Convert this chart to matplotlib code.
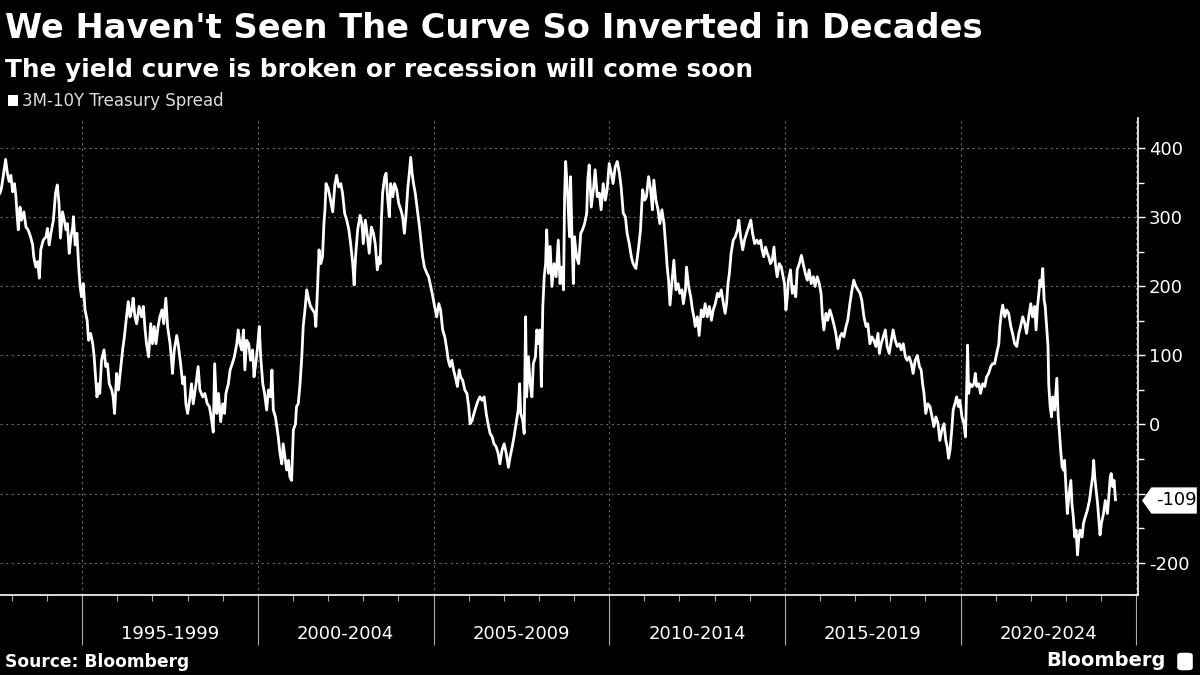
import matplotlib
matplotlib.use("Agg")
import matplotlib.pyplot as plt
from matplotlib.path import Path
from matplotlib.patches import Rectangle, FancyBboxPatch
from matplotlib.transforms import blended_transform_factory

# 3M-10Y Treasury spread, basis points (decimal years)
dates = [
    1992.66, 1992.70, 1992.75, 1992.82, 1992.87, 1992.92, 1992.97, 1993.02, 1993.07, 1993.11,
    1993.15, 1993.18, 1993.23, 1993.27, 1993.34, 1993.40, 1993.46, 1993.53, 1993.59, 1993.62,
    1993.68, 1993.73, 1993.78, 1993.82, 1993.89, 1993.97, 1994.01, 1994.06, 1994.11, 1994.18,
    1994.24, 1994.29, 1994.34, 1994.38, 1994.44, 1994.49, 1994.54, 1994.58, 1994.63, 1994.68,
    1994.73, 1994.75, 1994.80, 1994.85, 1994.90, 1994.94, 1994.98, 1995.03, 1995.08, 1995.14,
    1995.18, 1995.24, 1995.30, 1995.34, 1995.38, 1995.42, 1995.47, 1995.50, 1995.55, 1995.62,
    1995.67, 1995.72, 1995.77, 1995.84, 1995.88, 1995.92, 1995.98, 1996.03, 1996.09, 1996.15,
    1996.20, 1996.25, 1996.31, 1996.36, 1996.41, 1996.45, 1996.50, 1996.55, 1996.62, 1996.69,
    1996.74, 1996.79, 1996.83, 1996.89, 1996.95, 1997.00, 1997.05, 1997.10, 1997.16, 1997.21,
    1997.27, 1997.32, 1997.38, 1997.43, 1997.50, 1997.55, 1997.57, 1997.62, 1997.69, 1997.74,
    1997.80, 1997.86, 1997.91, 1997.95, 1998.00,
    1998.07, 1998.11, 1998.16, 1998.24, 1998.30, 1998.35, 1998.43, 1998.49, 1998.56, 1998.62,
    1998.67, 1998.73, 1998.77, 1998.83, 1998.88, 1998.94, 1999.00, 1999.05, 1999.09, 1999.16,
    1999.21, 1999.27, 1999.33, 1999.40, 1999.44, 1999.49, 1999.54, 1999.59, 1999.63, 1999.68,
    1999.74, 1999.79, 1999.85, 1999.89, 1999.94, 2000.00, 2000.04, 2000.08, 2000.14, 2000.19,
    2000.25, 2000.30, 2000.36, 2000.40, 2000.44, 2000.50, 2000.54, 2000.58, 2000.63, 2000.68,
    2000.72, 2000.77, 2000.82, 2000.87, 2000.91, 2000.96, 2001.01, 2001.07, 2001.10, 2001.15,
    2001.20, 2001.25, 2001.29, 2001.34, 2001.39, 2001.45, 2001.50, 2001.56, 2001.62, 2001.65,
    2001.70, 2001.74, 2001.79, 2001.84, 2001.88, 2001.91, 2001.94, 2002.00, 2002.05, 2002.13,
    2002.19, 2002.24, 2002.30, 2002.36, 2002.41, 2002.47, 2002.53, 2002.59, 2002.64, 2002.70,
    2002.74, 2002.78, 2002.84, 2002.91, 2002.96, 2003.00, 2003.06, 2003.12, 2003.17, 2003.23,
    2003.29, 2003.34, 2003.40, 2003.46,
    2003.48, 2003.52, 2003.55, 2003.61, 2003.65, 2003.69, 2003.74, 2003.78, 2003.84, 2003.89,
    2003.95, 2004.01, 2004.07, 2004.12, 2004.17, 2004.22, 2004.27, 2004.31, 2004.35, 2004.39,
    2004.43, 2004.48, 2004.54, 2004.60, 2004.65, 2004.69, 2004.74, 2004.81, 2004.86, 2004.92,
    2004.98, 2005.03, 2005.09, 2005.15, 2005.20, 2005.26, 2005.32, 2005.38, 2005.42, 2005.47,
    2005.52, 2005.57, 2005.62, 2005.68, 2005.73, 2005.77, 2005.83, 2005.89, 2005.95, 2006.00,
    2006.04, 2006.10, 2006.15, 2006.21, 2006.27, 2006.32, 2006.38, 2006.44, 2006.50, 2006.55,
    2006.61, 2006.67, 2006.72, 2006.78, 2006.84, 2006.89, 2006.95, 2007.01, 2007.07, 2007.13,
    2007.18, 2007.24, 2007.29, 2007.35, 2007.41, 2007.45, 2007.48, 2007.54, 2007.58, 2007.62,
    2007.65, 2007.70, 2007.75, 2007.80, 2007.84, 2007.90, 2007.94, 2007.99, 2008.03, 2008.07,
    2008.11, 2008.15, 2008.19, 2008.22, 2008.27, 2008.32, 2008.37, 2008.43, 2008.49, 2008.55,
    2008.60, 2008.65, 2008.70, 2008.73, 2008.76, 2008.81, 2008.87,
    2008.90, 2008.94, 2008.98, 2009.01, 2009.07, 2009.13, 2009.19, 2009.24, 2009.30, 2009.36,
    2009.39, 2009.43, 2009.49, 2009.55, 2009.60, 2009.66, 2009.72, 2009.77, 2009.83, 2009.89,
    2009.94, 2010.00, 2010.06, 2010.11, 2010.17, 2010.23, 2010.29, 2010.34, 2010.40, 2010.46,
    2010.51, 2010.57, 2010.63, 2010.68, 2010.76, 2010.84, 2010.89, 2010.95, 2011.01, 2011.06,
    2011.12, 2011.18, 2011.23, 2011.27, 2011.33, 2011.39, 2011.44, 2011.50, 2011.56, 2011.61,
    2011.65, 2011.69, 2011.73, 2011.79, 2011.84, 2011.90, 2011.96, 2012.01, 2012.07, 2012.11,
    2012.17, 2012.20, 2012.26, 2012.32, 2012.37, 2012.41, 2012.45, 2012.51, 2012.56, 2012.62,
    2012.68, 2012.73, 2012.79, 2012.85, 2012.91, 2012.96, 2013.02, 2013.08, 2013.13, 2013.19,
    2013.25, 2013.30, 2013.34, 2013.38, 2013.42, 2013.47, 2013.53, 2013.59, 2013.65, 2013.69,
    2013.74, 2013.80, 2013.85, 2013.91, 2013.97, 2014.03, 2014.08, 2014.14, 2014.20, 2014.25,
    2014.31, 2014.35, 2014.40, 2014.45, 2014.50, 2014.54, 2014.59, 2014.64, 2014.69, 2014.73,
    2014.78, 2014.84, 2014.90, 2014.95, 2014.99, 2015.03, 2015.07, 2015.10, 2015.16, 2015.21,
    2015.26, 2015.31, 2015.35, 2015.41, 2015.47, 2015.52, 2015.58, 2015.64, 2015.69, 2015.75,
    2015.81, 2015.86, 2015.92, 2015.98, 2016.03, 2016.07, 2016.11, 2016.17, 2016.22, 2016.28,
    2016.34, 2016.39, 2016.45, 2016.51, 2016.57, 2016.62, 2016.68, 2016.74, 2016.79, 2016.85,
    2016.91, 2016.96, 2017.02, 2017.08, 2017.14, 2017.19, 2017.25, 2017.31, 2017.36, 2017.42,
    2017.48, 2017.53, 2017.59, 2017.65, 2017.69, 2017.74, 2017.80, 2017.86, 2017.91, 2017.97,
    2018.03, 2018.08, 2018.14, 2018.20, 2018.26, 2018.31, 2018.37, 2018.43, 2018.48, 2018.54,
    2018.60, 2018.65, 2018.71, 2018.77, 2018.83, 2018.88, 2018.92, 2018.96, 2019.01, 2019.07,
    2019.13, 2019.19, 2019.24, 2019.30, 2019.36, 2019.41, 2019.47, 2019.53, 2019.58, 2019.62,
    2019.66,
    2019.70, 2019.75, 2019.79, 2019.84, 2019.89, 2019.94, 2019.98, 2020.04, 2020.10, 2020.14,
    2020.18, 2020.20, 2020.23, 2020.27, 2020.33, 2020.38, 2020.42, 2020.46, 2020.52, 2020.57,
    2020.63, 2020.69, 2020.74, 2020.80, 2020.86, 2020.91, 2020.97, 2021.03, 2021.09, 2021.12,
    2021.16, 2021.20, 2021.26, 2021.31, 2021.37, 2021.43, 2021.48, 2021.54, 2021.60, 2021.66,
    2021.71, 2021.77, 2021.83, 2021.88, 2021.94, 2022.00, 2022.05, 2022.11, 2022.15, 2022.19,
    2022.23, 2022.26, 2022.30, 2022.34, 2022.38, 2022.41, 2022.45, 2022.49, 2022.51, 2022.55,
    2022.59, 2022.62, 2022.68, 2022.74, 2022.78, 2022.81, 2022.85, 2022.89, 2022.93, 2022.96,
    2023.00, 2023.04, 2023.08, 2023.14, 2023.17, 2023.21, 2023.25, 2023.29, 2023.33, 2023.36,
    2023.40, 2023.46, 2023.50, 2023.55, 2023.61, 2023.67, 2023.72, 2023.76, 2023.79, 2023.82,
    2023.86, 2023.90, 2023.93, 2023.97, 2024.01, 2024.07, 2024.12, 2024.18, 2024.22, 2024.26,
    2024.29, 2024.33, 2024.37, 2024.41,
]

spread_bp = [
    335, 342, 359, 384, 364, 352, 361, 337, 349, 332,
    301, 282, 315, 296, 308, 286, 282, 272, 260, 243,
    228, 236, 212, 253, 267, 272, 284, 260, 277, 296,
    335, 347, 320, 270, 308, 296, 282, 291, 248, 272,
    286, 301, 260, 277, 228, 200, 185, 204, 166, 151,
    122, 132, 117, 98, 69, 40, 59, 45, 93, 108,
    84, 88, 59, 50, 40, 16, 74, 50, 79, 108,
    127, 151, 178, 156, 166, 183, 156, 146, 171, 156,
    171, 137, 117, 98, 146, 117, 142, 117, 142, 156,
    166, 146, 183, 142, 117, 88, 74, 108, 129, 113,
    88, 59, 69, 30, 16,
    40, 59, 30, 59, 84, 50, 40, 45, 30, 26,
    11, -11, 88, 16, 45, 4, 30, 16, 45, 59,
    79, 88, 98, 117, 137, 117, 108, 137, 79, 122,
    117, 93, 108, 69, 88, 117, 142, 98, 59, 45,
    21, 50, 40, 79, 21, 11, -3, -18, -42, -57,
    -28, -47, -66, -52, -76, -81, -8, 1, 26, 30,
    59, 98, 142, 166, 195, 180, 171, 166, 161, 142,
    200, 253, 233, 243, 291, 311, 349, 342, 330, 308,
    347, 361, 344, 349, 335, 306, 296, 282, 262, 233,
    202, 243, 282, 303, 291, 262, 296, 272, 248, 286,
    277, 262, 224, 243,
    233, 301, 335, 359, 364, 330, 301, 349, 330, 349,
    340, 320, 311, 301, 277, 306, 344, 364, 387, 364,
    349, 335, 311, 286, 262, 243, 228, 219, 214, 200,
    185, 171, 156, 175, 166, 137, 127, 108, 93, 84,
    93, 79, 69, 55, 79, 69, 64, 50, 45, 26,
    1, 6, 16, 26, 35, 40, 35, 40, 16, 1,
    -13, -18, -28, -32, -42, -57, -37, -28, -42, -62,
    -47, -32, -18, 1, 21, 59, 16, 6, -13, 156,
    40, 98, 59, 40, 88, 98, 137, 117, 137, 55,
    171, 214, 233, 282, 219, 258, 200, 233, 214, 267,
    204, 228, 195, 330, 381, 340, 272,
    359, 272, 204, 272, 243, 233, 277, 282, 291, 306,
    354, 376, 315, 340, 369, 330, 335, 311, 349, 325,
    340, 378, 364, 349, 373, 381, 364, 344, 306, 301,
    277, 262, 243, 233, 226, 258, 282, 340, 325, 330,
    359, 340, 311, 354, 325, 311, 291, 311, 291, 258,
    228, 209, 173, 209, 238, 195, 204, 190, 195, 175,
    195, 228, 200, 185, 166, 156, 142, 156, 129, 166,
    156, 175, 156, 171, 151, 166, 175, 190, 185, 195,
    175, 161, 175, 204, 219, 248, 267, 272, 282, 296,
    272, 253, 267, 277, 286, 296, 277, 262, 267, 262,
    267, 253, 243, 257, 248, 243, 233, 238, 257, 233,
    214, 233, 228, 214, 204, 166, 185, 209, 224, 190,
    200, 185, 224, 233, 245, 233, 219, 209, 224, 204,
    214, 200, 214, 204, 190, 156, 137, 161, 151, 166,
    156, 146, 132, 110, 127, 132, 127, 142, 151, 175,
    195, 209, 200, 195, 190, 180, 156, 142, 146, 117,
    127, 122, 113, 132, 103, 117, 127, 137, 113, 103,
    122, 137, 122, 113, 117, 108, 117, 98, 93, 98,
    88, 74, 93, 100, 84, 79, 59, 45, 16, 30,
    26, 11, -3, 11, 1, -23, -8, 1, -23, -32,
    -49,
    -37, -8, 21, 30, 40, 26, 35, 11, 1, -18,
    64, 115, 45, 59, 55, 59, 74, 55, 59, 45,
    59, 55, 69, 74, 84, 88, 88, 103, 117, 142,
    161, 173, 156, 166, 161, 142, 132, 117, 113, 132,
    142, 156, 146, 132, 156, 175, 156, 171, 137, 171,
    190, 209, 200, 226, 180, 171, 142, 113, 59, 26,
    11, 40, 21, 67, 11, -8, -37, -61, -66, -52,
    -90, -129, -105, -81, -114, -134, -163, -153, -189, -168,
    -153, -163, -143, -134, -124, -110, -90, -76, -52, -76,
    -95, -114, -134, -160, -143, -129, -110, -129, -105, -76,
    -71, -90, -81, -109,
]
assert len(dates) == len(spread_bp)

period_starts = [1995, 2000, 2005, 2010, 2015, 2020, 2025]
period_labels = ["1995-1999", "2000-2004", "2005-2009", "2010-2014", "2015-2019", "2020-2024"]
y_ticks = [-200, -100, 0, 100, 200, 300, 400]

title = "We Haven't Seen The Curve So Inverted in Decades"
subtitle = "The yield curve is broken or recession will come soon"
series_name = "3M-10Y Treasury Spread"

plt.rcParams['font.family'] = ['DejaVu Sans']
plt.rcParams['axes.unicode_minus'] = False

fig = plt.figure(figsize=(12, 6.75), dpi=100, facecolor='black')
ax = fig.add_axes([0.0, 0.1185, 0.9483, 0.7067])
ax.set_facecolor('black')

ax.plot(dates, spread_bp, color='white', lw=2.0, solid_joinstyle='round', zorder=3)

ax.set_xlim(1992.66, 2025.05)
ax.set_ylim(-247, 444)

# grid
ax.set_xticks(period_starts)
ax.set_xticks(range(1993, 2025), minor=True)
ax.set_yticks(y_ticks)
ax.set_yticks([-150, -50, 50, 150, 250, 350], minor=True)
ax.grid(True, which='major', color='#6a6a6a', lw=0.8, linestyle=(0, (2, 3)))

for side in ['top', 'left']:
    ax.spines[side].set_visible(False)
for side in ['right', 'bottom']:
    ax.spines[side].set_color('white')
    ax.spines[side].set_linewidth(1.2)

ax.yaxis.tick_right()
ax.tick_params(axis='y', which='major', colors='white', length=5, width=1,
               labelsize=13, pad=3)
ax.tick_params(axis='y', which='minor', colors='white', length=4, width=1)
ax.tick_params(axis='x', which='major', color='#aaaaaa', length=36, width=0.8,
               labelbottom=False)
ax.tick_params(axis='x', which='minor', color='#aaaaaa', length=4, width=0.8)

xlab_trans = blended_transform_factory(ax.transData, ax.transAxes)
for start, label in zip(period_starts[:-1], period_labels):
    ax.annotate(label, xy=(start + 2.5, 0), xycoords=xlab_trans,
                xytext=(0, -28), textcoords='offset points',
                ha='center', va='center', color='white', fontsize=13)

# last value callout
last = spread_bp[-1]
tag = Path([(0.06, 0), (0.22, 0.225), (1.0, 0.225), (1.0, -0.225), (0.22, -0.225), (0.06, 0)],
           [Path.MOVETO, Path.LINETO, Path.LINETO, Path.LINETO, Path.LINETO, Path.CLOSEPOLY])
tag_trans = blended_transform_factory(ax.transAxes, ax.transData)
ax.plot([1.0], [last], marker=tag, markersize=84, color='white', markeredgewidth=0,
        transform=tag_trans, clip_on=False, zorder=6)
ax.annotate(f"{last:.0f}", xy=(1.0, last), xycoords=tag_trans,
            xytext=(13, 0), textcoords='offset points', ha='left', va='center',
            color='black', fontsize=13, zorder=7, annotation_clip=False)

# titles and legend
fig.text(0.004, 0.944, title, color='white', fontsize=24.2, fontweight='bold', va='baseline')
fig.text(0.004, 0.886, subtitle, color='white', fontsize=17.8, fontweight='bold', va='baseline')
fig.patches.append(Rectangle((0.0067, 0.843), 0.0083, 0.016, transform=fig.transFigure,
                             facecolor='white', edgecolor='none'))
fig.text(0.0185, 0.851, series_name, color='#dddddd', fontsize=12, va='center')

fig.text(0.004, 0.019, "Source: Bloomberg", color='white', fontsize=12.3,
         fontweight='bold', va='center')
fig.text(0.971, 0.022, "Bloomberg", color='white', fontsize=14, fontweight='bold',
         va='center', ha='right')
fig.patches.append(FancyBboxPatch((0.981, 0.007), 0.013, 0.026, transform=fig.transFigure,
                                  boxstyle='round,pad=0.0,rounding_size=0.004',
                                  facecolor='white', edgecolor='none'))

fig.savefig('out.png', dpi=100, facecolor='black')
